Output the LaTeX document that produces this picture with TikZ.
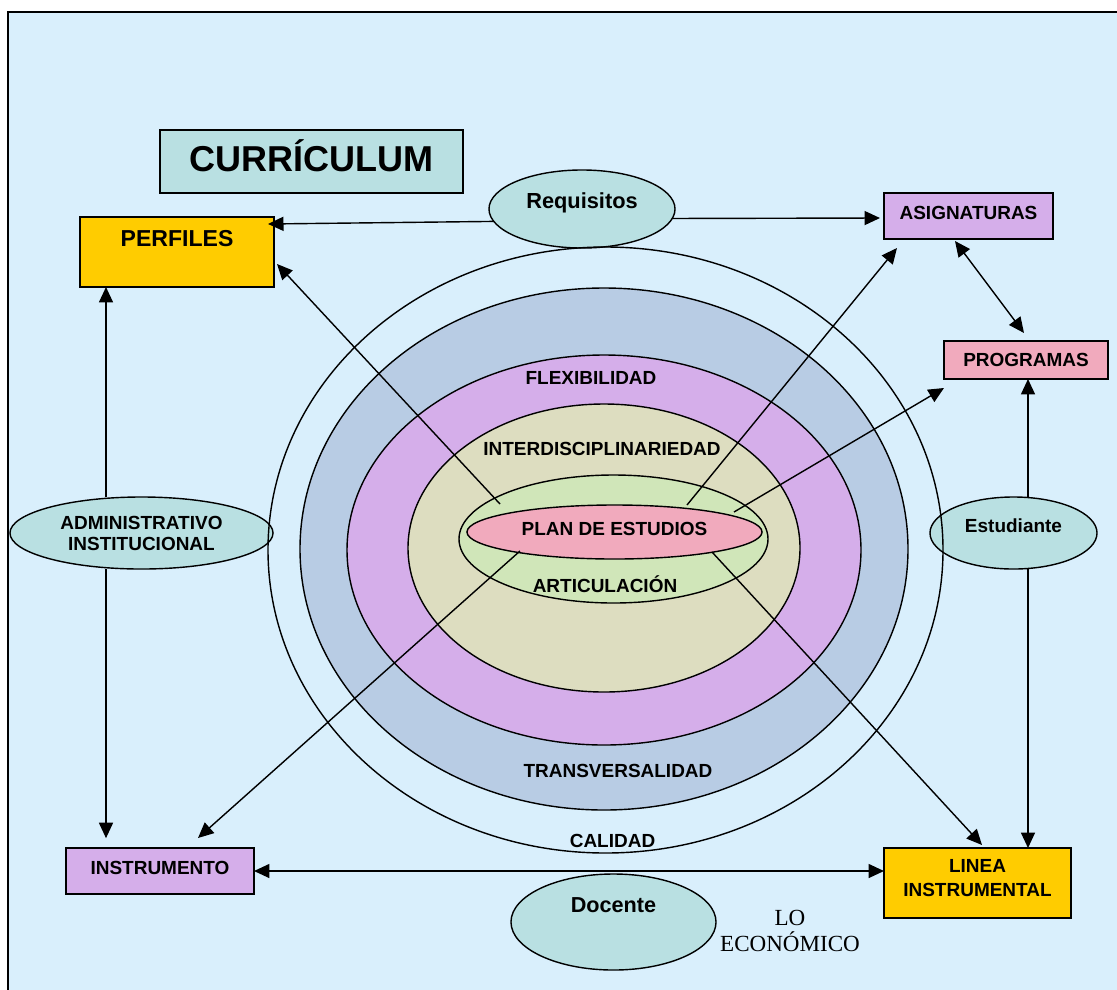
\documentclass[tikz,border=0pt]{standalone}
\usepackage{fontspec}
\setmainfont{Liberation Sans}
\newfontfamily\romana{Liberation Serif}
\usepackage{tikz}
\usetikzlibrary{positioning, arrows.meta, shapes.geometric}

\definecolor{fondo}{HTML}{D9EFFC}
\definecolor{turquesa}{HTML}{B9E0E2}
\definecolor{oro}{HTML}{FFCC00}
\definecolor{lila}{HTML}{D5AEEA}
\definecolor{rosa}{HTML}{F1AABD}
\definecolor{azulanillo}{HTML}{B8CCE4}
\definecolor{beige}{HTML}{DDDDC0}
\definecolor{verde}{HTML}{D0E6B9}

\begin{document}
\begin{tikzpicture}[x=0.025cm, y=-0.025cm,
  caja/.style={draw, line width=1.3pt, inner sep=0pt, outer sep=0pt, align=center, font=\fontsize{13.5}{17}\selectfont\bfseries},
  elipse/.style={ellipse, draw, line width=1pt, fill=turquesa, inner sep=0pt, outer sep=0pt, align=center, font=\fontsize{13.5}{15}\selectfont\bfseries},
  anillo/.style={draw, line width=1pt},
  rotulo/.style={font=\fontsize{13.5}{16}\selectfont\bfseries},
  flecha/.style={line width=1pt, -{Triangle[length=11pt,width=10pt]}},
  dflecha/.style={line width=1pt, {Triangle[length=11pt,width=10pt]}-{Triangle[length=11pt,width=10pt]}}]
\useasboundingbox (0,0) rectangle (1117,989);
% marco
\draw[line width=1.6pt, fill=fondo] (8,12) rectangle (1140,1010);
% anillos
\draw[anillo, fill=azulanillo] (604,549) ellipse [x radius=304, y radius=261];
\draw[anillo, fill=lila] (604,550) ellipse [x radius=257, y radius=195];
\draw[anillo, fill=beige] (604,548) ellipse [x radius=196, y radius=144];
\draw[anillo, fill=verde] (613.5,539) ellipse [x radius=154.5, y radius=64];
% cajas
\node[caja, fill=turquesa, minimum width=7.575cm, minimum height=1.575cm, font=\fontsize{25.6}{30}\selectfont\bfseries, text height=18.3pt, text depth=3.6pt] (curr) at (311.5,161.5) {CURRÍCULUM};
\node[caja, fill=oro, minimum width=4.85cm, minimum height=1.75cm, font=\fontsize{16.4}{19}\selectfont\bfseries, text height=11.7pt, text depth=19.8pt] (perfiles) at (177,252) {PERFILES};
\node[caja, fill=lila, minimum width=4.225cm, minimum height=1.15cm, text height=9.7pt, text depth=5pt] (asig) at (968.5,216) {ASIGNATURAS};
\node[caja, fill=rosa, minimum width=4.1cm, minimum height=0.95cm, text height=9.7pt, text depth=0pt] (prog) at (1026,360) {PROGRAMAS};
\node[caja, fill=lila, minimum width=4.7cm, minimum height=1.15cm, text height=9.7pt, text depth=5pt] (instr) at (160,871) {INSTRUMENTO};
\node[caja, fill=oro, minimum width=4.675cm, minimum height=1.75cm, text depth=7.8pt] (linea) at (977.5,883) {LINEA\\INSTRUMENTAL};
% elipses
\node[elipse, minimum width=4.65cm, minimum height=1.95cm, font=\fontsize{15.5}{18}\selectfont\bfseries, text height=11.1pt, text depth=12pt] (req) at (582,209) {Requisitos};
\node[elipse, minimum width=6.575cm, minimum height=1.8cm] (admin) at (141.5,533) {ADMINISTRATIVO\\INSTITUCIONAL};
\node[elipse, minimum width=4.175cm, minimum height=1.8cm, text height=9.7pt, text depth=10.6pt] (estud) at (1013.5,533) {Estudiante};
\node[elipse, minimum width=5.125cm, minimum height=2.4cm, font=\fontsize{15.4}{18}\selectfont\bfseries, text height=11pt, text depth=24.8pt] (docente) at (613.5,922) {Docente};
\node[elipse, fill=rosa, minimum width=7.375cm, minimum height=1.35cm, text height=9.7pt, text depth=4.2pt] (plan) at (614.5,532) {PLAN DE ESTUDIOS};
% rotulos de los anillos
\node[rotulo] (tflex) at (591,378) {FLEXIBILIDAD};
\node[rotulo] (tinter) at (602,449) {INTERDISCIPLINARIEDAD};
\node[rotulo] (tartic) at (605,584) {ARTICULACIÓN};
\node[rotulo] (ttrans) at (618,771) {TRANSVERSALIDAD};
\node[rotulo] (tcal) at (612.5,841) {CALIDAD};
\node[font=\romana\fontsize{16.4}{19}\selectfont, align=center] (eco) at (790,931) {LO\\ECONÓMICO};
\draw[anillo] (605.5,550) ellipse [x radius=337.5, y radius=303];
% conectores
\coordinate (p1) at (500,504);
\coordinate (p2) at (687,505);
\coordinate (p3) at (734,512);
\coordinate (p4) at (520,551);
\coordinate (p5) at (712,552);
\coordinate (ejeA) at (106,0);
\coordinate (ejeE) at (1028,0);
\draw[flecha] (p1) -- ([shift={(3,12)}]perfiles.east);
\draw[flecha] (p2) -- ([shift={(13,9)}]asig.south west);
\draw[flecha] (p3) -- ([shift={(0,9)}]prog.south west);
\draw[flecha] (p4) -- ([shift={(38,-10)}]instr.north);
\draw[flecha] (p5) -- ([shift={(4.5,-3)}]linea.north);
\draw[flecha] (req.188) -- ([shift={(-6,7)}]perfiles.north east);
\draw[flecha] (req.-6) -- ([shift={(-4,2)}]asig.west);
\draw[dflecha] ([shift={(-13.5,2)}]asig.south) -- ([shift={(-2,-8)}]prog.north);
\draw[flecha] (admin.north -| ejeA) -- (perfiles.south -| ejeA);
\draw[flecha, shorten >=7pt] (admin.south -| ejeA) -- (instr.north -| ejeA);
\draw[flecha] (estud.north -| ejeE) -- (prog.south -| ejeE);
\draw[flecha] (estud.south -| ejeE) -- (linea.north -| ejeE);
\draw[dflecha] (instr.east) -- (instr.east -| linea.west);
\end{tikzpicture}
\end{document}
